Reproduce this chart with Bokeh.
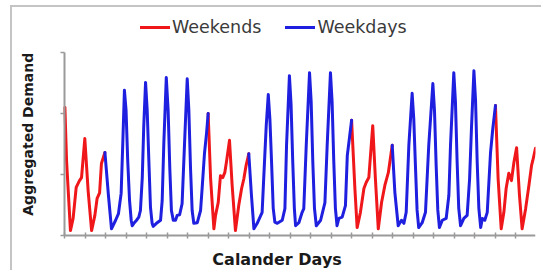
import math
from bokeh.plotting import figure
from bokeh.models import Legend, LegendItem, Label, FixedTicker, Range1d
from bokeh.embed import file_html
from bokeh.resources import INLINE

# Calendar day (fractional) and aggregated demand
day = [0.02, 0.10, 0.29, 0.42, 0.57, 0.73, 0.83, 0.99, 1.15, 1.32, 1.48, 1.59, 1.71, 1.80, 1.97,
       2.14, 2.29, 2.49, 2.63, 2.76, 2.84, 2.92, 3.00, 3.08, 3.17, 3.25, 3.30, 3.38, 3.51, 3.62, 3.70,
       3.79, 3.86, 3.95, 4.03, 4.11, 4.19, 4.27, 4.32, 4.48, 4.68, 4.76, 4.84, 4.96, 5.05, 5.13,
       5.21, 5.30, 5.41, 5.49, 5.61, 5.73, 5.85, 5.98, 6.06, 6.14, 6.22, 6.30, 6.47, 6.63, 6.71,
       6.82, 6.92, 7.00,
       7.12, 7.28, 7.36, 7.49, 7.60, 7.71, 7.81, 7.89, 8.04, 8.17, 8.33, 8.49, 8.63, 8.74, 8.85, 8.98,
       9.11, 9.23, 9.39, 9.63, 9.76, 9.83, 9.93, 10.01, 10.09, 10.17, 10.25, 10.37, 10.61, 10.74, 10.82,
       10.96, 11.04, 11.12, 11.20, 11.26, 11.42, 11.58, 11.66, 11.78, 11.94, 12.02, 12.10, 12.18, 12.27,
       12.48, 12.69, 12.80, 12.96, 13.04, 13.12, 13.20, 13.28, 13.37, 13.53, 13.69, 13.78, 13.90, 13.99,
       14.15, 14.26, 14.42, 14.59, 14.70, 14.83, 15.02, 15.15, 15.29, 15.45, 15.61, 15.78, 15.97,
       16.10, 16.26, 16.42, 16.54, 16.65, 16.78, 16.94, 17.02, 17.10, 17.18, 17.26, 17.43, 17.59, 17.75,
       17.95, 18.03, 18.11, 18.19, 18.27, 18.41, 18.60, 18.73, 18.81, 18.97, 19.05, 19.13, 19.21, 19.30,
       19.46, 19.62, 19.74, 19.83, 19.95, 20.03, 20.11, 20.19, 20.28, 20.36, 20.48, 20.60, 20.76, 20.87,
       21.00,
       21.13, 21.28, 21.41, 21.52, 21.65, 21.78, 21.90, 22.03, 22.17, 22.30, 22.47, 22.63, 22.76, 22.82, 22.95]

demand = [2.10, 1.23, 0.08, 0.28, 0.79, 0.90, 0.95, 1.59, 0.74, 0.08, 0.33, 0.61, 0.70, 1.18, 1.36,
          0.66, 0.11, 0.25, 0.36, 0.69, 1.51, 2.38, 2.05, 1.23, 0.57, 0.25, 0.16, 0.20, 0.25, 0.30, 0.41,
          0.95, 1.77, 2.51, 2.05, 1.23, 0.46, 0.20, 0.15, 0.20, 0.25, 0.57, 1.51, 2.59, 2.05, 1.11,
          0.41, 0.25, 0.25, 0.33, 0.34, 0.52, 1.51, 2.57, 2.05, 1.11, 0.41, 0.20, 0.21, 0.41, 0.79,
          1.34, 1.67, 2.00,
          0.93, 0.11, 0.33, 0.54, 0.98, 0.95, 1.03, 1.20, 1.56, 0.82, 0.08, 0.49, 0.77, 0.93, 1.15, 1.34,
          0.66, 0.11, 0.20, 0.38, 1.31, 1.80, 2.31, 1.90, 1.20, 0.45, 0.22, 0.20, 0.25, 0.44, 1.48,
          2.62, 2.15, 1.23, 0.45, 0.16, 0.21, 0.38, 0.44, 1.48, 2.67, 2.19, 1.20, 0.45, 0.16,
          0.25, 0.54, 1.48, 2.67, 2.19, 1.23, 0.45, 0.16, 0.28, 0.30, 0.49, 1.31, 1.64, 1.89,
          0.77, 0.13, 0.38, 0.77, 0.87, 0.95, 1.80, 0.93, 0.11, 0.54, 0.82, 1.03, 1.48,
          0.70, 0.16, 0.25, 0.20, 0.38, 1.48, 2.33, 1.91, 1.15, 0.42, 0.13, 0.21, 0.38, 1.48,
          2.49, 2.04, 1.15, 0.42, 0.13, 0.25, 0.28, 0.66, 1.48, 2.67, 2.19, 1.23, 0.45, 0.16,
          0.28, 0.33, 0.93, 1.75, 2.70, 2.21, 1.20, 0.45, 0.13, 0.28, 0.25, 0.38, 1.36, 1.75,
          2.13,
          0.93, 0.11, 0.38, 0.77, 1.02, 0.90, 1.20, 1.44, 0.66, 0.11, 0.44, 0.82, 1.15, 1.23, 1.43]

segment_bounds = [0, 2, 7, 9, 14, 16, 21, 23]
segment_kind = ["Weekends", "Weekdays", "Weekends", "Weekdays", "Weekends", "Weekdays", "Weekends"]
x_ticks = list(range(0, 24))
y_ticks = [0, 1, 2, 3]

assert len(day) == len(demand)

# split the series into segments sharing boundary points
cut_idx = [0]
for b in segment_bounds[1:-1]:
    cut_idx.append(min(range(len(day)), key=lambda i: abs(day[i] - b)))
cut_idx.append(len(day) - 1)

xs = {"Weekends": [], "Weekdays": []}
ys = {"Weekends": [], "Weekdays": []}
for k, kind in enumerate(segment_kind):
    a, b = cut_idx[k], cut_idx[k + 1]
    xs[kind].append(day[a:b + 1])
    ys[kind].append(demand[a:b + 1])

# geometry (pixels): canvas 531 x 265, frame spans canvas except 8px panels right & top
W, H = 531, 265
px_day = 472 / 23          # pixels per day
px_unit = 61               # pixels per demand unit
left_gap = 52              # frame left edge -> day 0
bottom_gap = 37            # frame bottom -> demand 0
frame_w, frame_h = W - 8, H - 8
x0 = -left_gap / px_day
y0 = -bottom_gap / px_unit

p = figure(width=W, height=H, output_backend="svg", toolbar_location=None,
           x_range=Range1d(x0, x0 + frame_w / px_day), y_range=Range1d(y0, y0 + frame_h / px_unit),
           x_axis_location="above", y_axis_location="right",
           min_border_left=0, min_border_right=8, min_border_top=8, min_border_bottom=0)
p.styles = {"margin-left": "10px", "margin-top": "5px",
            "border-left": "2px solid #c4c4c4", "border-top": "2px solid #c4c4c4"}
p.outline_line_color = None
p.xgrid.visible = False
p.ygrid.visible = False
p.background_fill_color = "white"
p.border_fill_color = "white"

colors = {"Weekends": "#f0171b", "Weekdays": "#1f1fe0"}
renderers = {}
for kind in ["Weekends", "Weekdays"]:
    renderers[kind] = p.multi_line(xs[kind], ys[kind], line_color=colors[kind], line_width=3,
                                   line_join="round", line_cap="round")

for ax in (p.xaxis[0], p.yaxis[0]):
    ax.axis_line_color = "#9a9a9a"
    ax.axis_line_width = 2
    ax.major_tick_line_color = None
    ax.minor_tick_line_color = "#9a9a9a"
    ax.minor_tick_line_width = 1.5
    ax.fixed_location = 0
p.xaxis.ticker = FixedTicker(ticks=[], minor_ticks=x_ticks)
p.yaxis.ticker = FixedTicker(ticks=[], minor_ticks=y_ticks)
p.xaxis.bounds = (0, 23)
p.yaxis.bounds = (0, 3)
p.xaxis.minor_tick_in = 3
p.xaxis.minor_tick_out = 3
p.yaxis.minor_tick_in = 4
p.yaxis.minor_tick_out = 0

legend = Legend(items=[LegendItem(label=k, renderers=[renderers[k]]) for k in ["Weekends", "Weekdays"]],
                orientation="horizontal", location=(128, 235), glyph_width=30, glyph_height=20,
                label_height=20, label_standoff=2, spacing=24, padding=0, margin=0,
                border_line_color=None, background_fill_alpha=0,
                label_text_font="DejaVu Sans", label_text_font_size="17.5px", label_text_color="#3a3a3a")
p.add_layout(legend)

p.add_layout(Label(x=10.36, y=-0.40, text="Calander Days", text_align="center", text_baseline="middle",
                   text_font="DejaVu Sans", text_font_style="bold", text_font_size="16px",
                   text_color="#1a1a1a"))
p.add_layout(Label(x=-1.78, y=1.66, text="Aggregated Demand", angle=math.pi / 2,
                   text_align="center", text_baseline="middle",
                   text_font="DejaVu Sans", text_font_style="bold", text_font_size="14px",
                   text_color="#1a1a1a"))

open("out.html", "w").write(file_html(p, INLINE))
